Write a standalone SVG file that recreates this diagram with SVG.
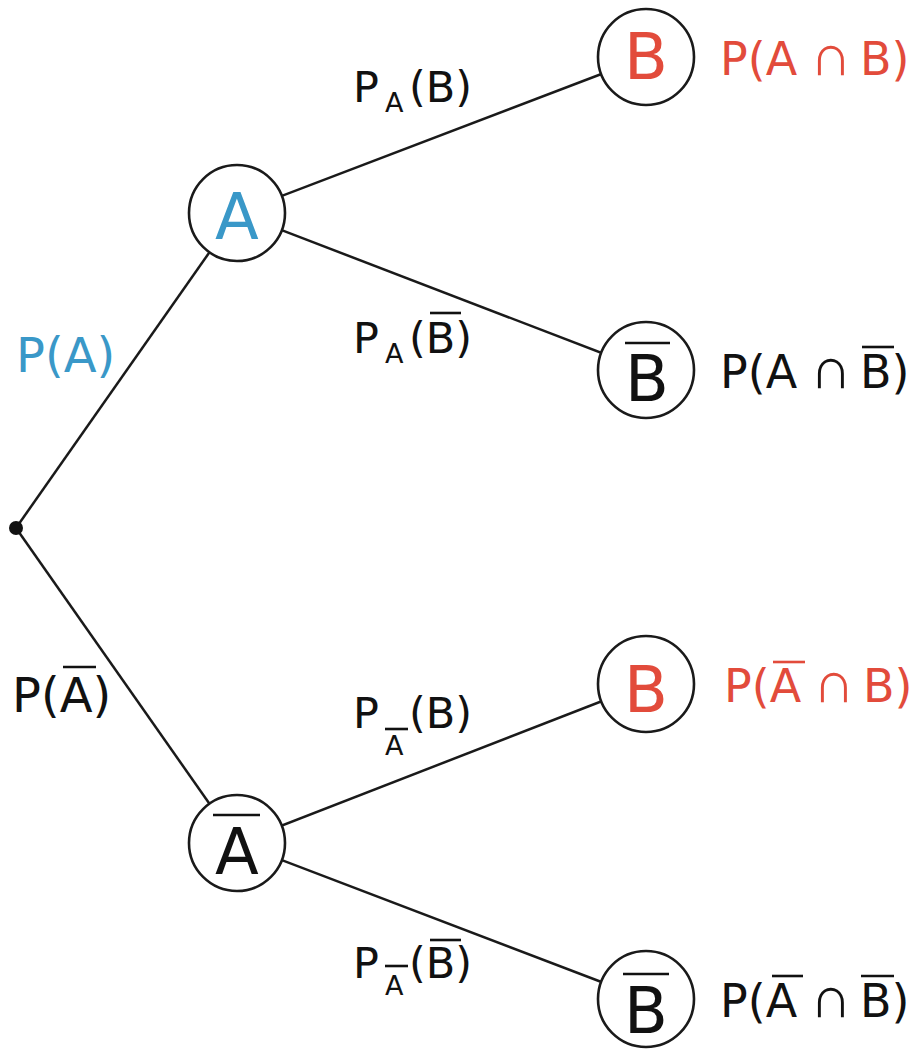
<svg xmlns="http://www.w3.org/2000/svg" width="914" height="1056" viewBox="0 0 914 1056">
<style>
text{font-family:"DejaVu Sans",sans-serif;}
.node{fill:#fff;stroke:#1a1a1a;stroke-width:2.6;}
.edge{stroke:#1a1a1a;stroke-width:2.5;fill:none;}
.big{font-size:64px;text-anchor:middle;}
.lab{font-size:43px;fill:#111;}
.sub{font-size:27px;fill:#111;}
.res{font-size:46px;}
.cap{font-size:58px;font-weight:200;}
.bar{stroke-width:2.6;}
.blue{fill:#3a98c8;}
.red{fill:#e24b3b;}
.blk{fill:#111;}
</style>
<rect width="914" height="1056" fill="#fff"/>
<g id="connectors">
<line class="edge" x1="16" y1="528" x2="237" y2="213"/>
<line class="edge" x1="16" y1="528" x2="237" y2="843"/>
<line class="edge" x1="237" y1="213" x2="646" y2="57"/>
<line class="edge" x1="237" y1="213" x2="646" y2="370"/>
<line class="edge" x1="237" y1="843" x2="646" y2="684"/>
<line class="edge" x1="237" y1="843" x2="646" y2="999"/>
</g>
<g id="root"><circle cx="16" cy="528" r="7" fill="#111"/></g>
<g id="nodeA">
<circle class="node" cx="237" cy="213" r="48"/>
<text class="big blue" x="237" y="239">A</text>
</g>
<g id="nodeAbar">
<circle class="node" cx="237" cy="843" r="48"/>
<text class="big blk" x="237" y="874">A</text>
<line class="bar" stroke="#111" x1="213" y1="815" x2="260" y2="815"/>
</g>
<g id="nodeB1">
<circle class="node" cx="646" cy="57" r="48"/>
<text class="big red" x="646" y="79">B</text>
</g>
<g id="nodeBbar1">
<circle class="node" cx="646" cy="370" r="48"/>
<text class="big blk" x="647" y="401">B</text>
<line class="bar" stroke="#111" x1="625" y1="343" x2="670" y2="343"/>
</g>
<g id="nodeB2">
<circle class="node" cx="646" cy="684" r="48"/>
<text class="big red" x="646" y="712">B</text>
</g>
<g id="nodeBbar2">
<circle class="node" cx="646" cy="999" r="48"/>
<text class="big blk" x="646" y="1033">B</text>
<line class="bar" stroke="#111" x1="623" y1="974" x2="669" y2="974"/>
</g>
<g id="edge-labels">
<text class="lab blue" x="16" y="372" style="font-size:48px">P(A)</text>
<text class="lab" x="12" y="712" style="font-size:48px">P(A)</text>
<line class="bar" stroke="#111" x1="63" y1="667" x2="96" y2="667"/>

<text class="lab" x="353" y="102">P</text>
<text class="sub" x="385" y="112">A</text>
<text class="lab" x="409" y="102">(B)</text>

<text class="lab" x="353" y="353">P</text>
<text class="sub" x="385" y="363">A</text>
<text class="lab" x="409" y="353">(B)</text>
<line class="bar" stroke="#111" x1="430" y1="313" x2="461" y2="313"/>

<text class="lab" x="353" y="728">P</text>
<text class="sub" x="385" y="755">A</text>
<line class="bar" stroke="#111" x1="385" y1="729" x2="408" y2="729"/>
<text class="lab" x="409" y="728">(B)</text>

<text class="lab" x="353" y="978">P</text>
<text class="sub" x="385" y="995">A</text>
<line class="bar" stroke="#111" x1="385" y1="966" x2="408" y2="966"/>
<text class="lab" x="409" y="978">(B)</text>
<line class="bar" stroke="#111" x1="430" y1="940" x2="461" y2="940"/>
</g>
<g id="results">
<text class="res red" x="720" y="75">P(A</text>
<text class="cap red" x="810" y="75">∩</text>
<text class="res red" x="860" y="75">B)</text>

<text class="res blk" x="720" y="388">P(A</text>
<text class="cap blk" x="810" y="388">∩</text>
<text class="res blk" x="860" y="388">B)</text>
<line class="bar" stroke="#111" x1="862" y1="347" x2="894" y2="347"/>

<text class="res red" x="724" y="702">P(A</text>
<text class="cap red" x="813" y="702">∩</text>
<text class="res red" x="863" y="702">B)</text>
<line class="bar" stroke="#e24b3b" x1="773" y1="662" x2="805" y2="662"/>

<text class="res blk" x="720" y="1017">P(A</text>
<text class="cap blk" x="810" y="1017">∩</text>
<text class="res blk" x="860" y="1017">B)</text>
<line class="bar" stroke="#111" x1="772" y1="976" x2="803" y2="976"/>
<line class="bar" stroke="#111" x1="861" y1="976" x2="894" y2="976"/>
</g>
</svg>
